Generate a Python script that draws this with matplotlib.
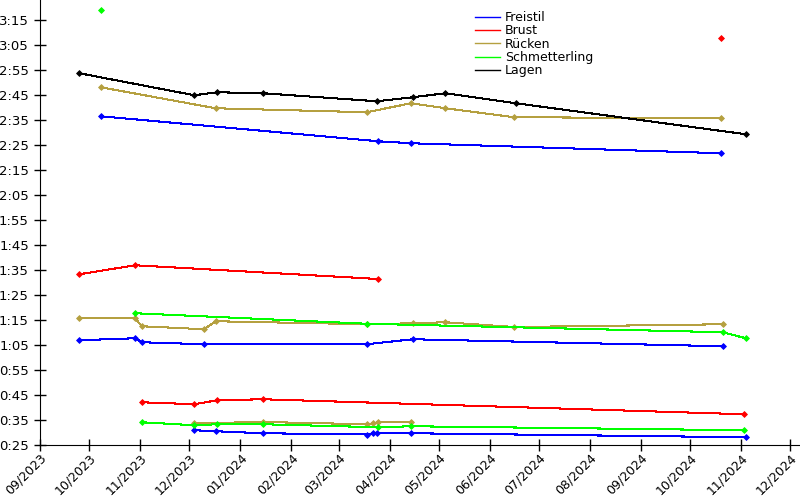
import matplotlib
matplotlib.use("Agg")
import matplotlib.pyplot as plt
import matplotlib.dates as mdates
import numpy as np
from matplotlib.ticker import FixedLocator, FuncFormatter

# ---- data (times in seconds) ----
strokes = ["Freistil", "Brust", "Rücken", "Schmetterling", "Lagen"]
colors = ["#0000ff", "#ff0000", "#b5a040", "#00ff00", "#000000"]

# Freistil
free50_dates = ["2023-12-04", "2023-12-17", "2024-01-15", "2024-03-18", "2024-03-22", "2024-03-24", "2024-04-14", "2024-11-04"]
free50_times = [30.9, 30.5, 29.7, 29.2, 29.7, 29.7, 29.7, 28.1]
free100_dates = ["2023-09-25", "2023-10-29", "2023-11-02", "2023-12-10", "2024-03-18", "2024-04-15", "2024-10-21"]
free100_times = [66.9, 67.7, 66.1, 65.3, 65.3, 67.3, 64.5]
free200_dates = ["2023-10-08", "2024-03-25", "2024-04-14", "2024-10-20"]
free200_times = [156.5, 146.5, 145.7, 141.7]

# Brust
breast50_dates = ["2023-11-02", "2023-12-04", "2023-12-18", "2024-01-15", "2024-11-03"]
breast50_times = [42.1, 41.3, 42.9, 43.3, 37.3]
breast100_dates = ["2023-09-25", "2023-10-29", "2024-03-25"]
breast100_times = [93.3, 96.9, 91.4]
breast200_dates = ["2024-10-20"]
breast200_times = [187.8]

# Rücken
back50_dates = ["2023-12-04", "2024-01-15", "2024-03-18", "2024-03-22", "2024-03-25", "2024-04-14"]
back50_times = [33.7, 34.2, 33.3, 33.7, 34.2, 34.2]
back100_dates = ["2023-09-25", "2023-10-29", "2023-11-02", "2023-12-10", "2023-12-17", "2024-03-18", "2024-04-15", "2024-05-05", "2024-06-16", "2024-10-21"]
back100_times = [75.7, 75.7, 72.5, 71.3, 74.5, 73.3, 73.7, 74.1, 72.2, 73.3]
back200_dates = ["2023-10-08", "2023-12-17", "2024-03-18", "2024-04-14", "2024-05-05", "2024-06-16", "2024-10-20"]
back200_times = [168.1, 159.7, 158.1, 161.7, 159.7, 156.1, 155.7]

# Schmetterling
fly50_dates = ["2023-11-02", "2023-12-04", "2023-12-18", "2024-01-15", "2024-03-25", "2024-04-14", "2024-11-03"]
fly50_times = [34.1, 32.9, 33.3, 33.3, 32.1, 32.5, 30.9]
fly100_dates = ["2023-10-29", "2024-03-18", "2024-10-21", "2024-11-04"]
fly100_times = [77.7, 73.5, 70.1, 67.7]
fly200_dates = ["2023-10-08"]
fly200_times = [198.9]

# Lagen
im200_dates = ["2023-09-25", "2023-12-04", "2023-12-18", "2024-01-15", "2024-03-24", "2024-04-15", "2024-05-05", "2024-06-17", "2024-11-04"]
im200_times = [173.7, 164.9, 166.1, 165.7, 162.5, 164.1, 165.7, 161.7, 149.3]

y_ticks = list(range(25, 196, 10))

series = {
    "Freistil": [(free50_dates, free50_times), (free100_dates, free100_times), (free200_dates, free200_times)],
    "Brust": [(breast50_dates, breast50_times), (breast100_dates, breast100_times), (breast200_dates, breast200_times)],
    "Rücken": [(back50_dates, back50_times), (back100_dates, back100_times), (back200_dates, back200_times)],
    "Schmetterling": [(fly50_dates, fly50_times), (fly100_dates, fly100_times), (fly200_dates, fly200_times)],
    "Lagen": [(im200_dates, im200_times)],
}

fig = plt.figure(figsize=(8, 5), dpi=100)
ax = fig.add_axes([0.05, 0.11, 0.95, 0.89])

for name, col in zip(strokes, colors):
    for d, t in series[name]:
        dd = np.array(d, dtype="datetime64[D]")
        ax.plot(dd, t, color=col, lw=0.75, marker="D", ms=3, mew=0.6,
                antialiased=False)

ax.set_xlim(np.datetime64("2023-09-01"), np.datetime64("2024-12-07"))
ax.set_ylim(25, 203)

ax.xaxis.set_major_locator(mdates.MonthLocator())
ax.xaxis.set_major_formatter(mdates.DateFormatter("%m/%Y"))
ax.yaxis.set_major_locator(FixedLocator(y_ticks))
ax.yaxis.set_major_formatter(FuncFormatter(lambda v, p: f"{int(v)//60}:{int(v)%60:02d}"))

for s in ["top", "right"]:
    ax.spines[s].set_visible(False)
ax.tick_params(axis="both", direction="inout", length=9, width=1)
ax.tick_params(axis="y", labelsize=9.5)
ax.tick_params(axis="x", labelsize=9, pad=0)
for lbl in ax.get_xticklabels():
    lbl.set_rotation(45)
    lbl.set_ha("right")
    lbl.set_rotation_mode("anchor")

handles = [plt.Line2D([], [], color=c, lw=1.0) for c in colors]
ax.legend(handles, strokes, loc="upper left", bbox_to_anchor=(0.572, 0.975), frameon=False,
          fontsize=9, handlelength=2.0, handletextpad=0.4,
          labelspacing=0.02, borderaxespad=0.0, borderpad=0.0)

fig.savefig("out.png", dpi=100)
